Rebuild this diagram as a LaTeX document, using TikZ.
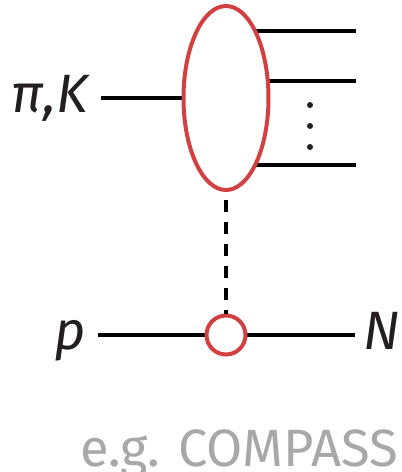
\documentclass[tikz,border=0pt]{standalone}
\usepackage{fontspec}
\setmainfont{Fira Sans}
\usetikzlibrary{shapes.geometric,backgrounds}
\definecolor{blobred}{HTML}{D24141}
\definecolor{labgray}{HTML}{A8A8A8}
\definecolor{ink}{HTML}{231F20}
\tikzset{
  line/.style={line width=4pt, draw=black},
  blobstyle/.style={ellipse, draw=blobred, fill=white, line width=4pt, minimum width=85pt, minimum height=184pt, inner sep=0pt},
  vtxstyle/.style={circle, draw=blobred, fill=white, line width=4pt, minimum size=39pt, inner sep=0pt},
  dotstyle/.style={circle, fill=ink, inner sep=0pt, minimum size=6pt},
  lab/.style={font=\fontsize{54}{54}\selectfont\itshape, text=ink, inner sep=0pt},
  note/.style={font=\fontsize{52.5}{52.5}\selectfont, text=labgray, inner sep=0pt}
}
\begin{document}
\begin{tikzpicture}[x=1pt,y=-1pt]
\useasboundingbox (0,0) rectangle (402,472);
\node[blobstyle] (blob) at (226,98) {};
\node[vtxstyle] (vtx) at (226,335) {};
\coordinate (inL) at (101,98);
\coordinate (o1) at (356,31);
\coordinate (o2) at (356,81);
\coordinate (o3) at (356,165);
\coordinate (pL) at (98,335);
\coordinate (nR) at (355,335);
\begin{scope}[on background layer]
\draw[line] (inL) -- (blob.center);
\draw[line] (o1) -- (o1 -| blob.center);
\draw[line] (o2) -- (o2 -| blob.center);
\draw[line] (o3) -- (o3 -| blob.center);
\draw[line] (pL) -- (nR);
\end{scope}
\draw[line, dash pattern=on 12pt off 10pt, shorten <=8pt] (blob.south) -- (vtx.north);
\node[dotstyle] (d1) at (310,105) {};
\node[dotstyle] (d2) at (310,126) {};
\node[dotstyle] (d3) at (310,147) {};
\node[lab, anchor=base east] (piK) at (88,112) {π,K};
\node[lab, anchor=base east] (p) at (86,349) {p};
\node[lab, anchor=base west] (N) at (363,349) {N};
\node[note, anchor=base east] (eg) at (398,466) {e.g. COMPASS};
\end{tikzpicture}
\end{document}
